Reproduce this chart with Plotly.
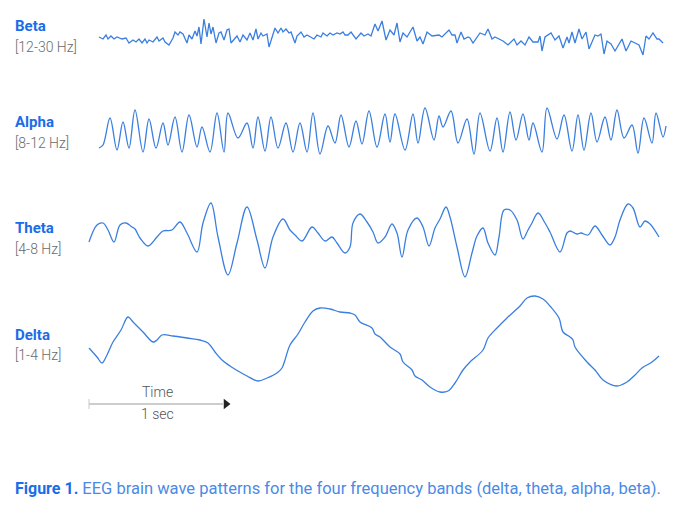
import plotly.graph_objects as go

# Waveforms (x = horizontal position, y = vertical position, screen units)
beta_x = [99,103,106,108,111,114,117,122,126,129,133,136,139,142,145,147,149,153,157,159,163,165,169,173,175,178,180,183,187,189,192,195,197,199,201,204,207,209,211,213,216,219,221,224,227,229,231,234,237,240,243,247,250,253,256,258,261,263,267,269,273,275,278,281,283,286,289,291,295,297,301,304,307,311,314,317,321,323,327,330,333,337,340,343,345,348,351,356,361,364,368,371,375,378,382,386,390,394,397,400,403,407,413,417,420,423,427,432,439,442,449,452,455,457,461,464,468,470,473,480,485,488,492,495,503,508,514,517,521,525,529,533,538,540,542,545,551,555,559,563,567,569,572,575,579,582,586,589,593,595,598,601,604,607,611,615,622,626,631,635,639,643,646,649,653,657,659,663]
beta_y = [37,39,35,39,36,39,37,39,38,43,40,42,39,43,39,43,40,42,37,41,38,42,45,38,32,35,32,34,43,35,39,31,36,27,44,19,37,23,34,27,43,33,32,40,30,29,43,39,36,42,35,40,33,40,29,39,33,36,34,47,33,28,33,28,32,29,33,32,43,36,32,37,35,37,39,35,37,33,36,33,35,33,34,32,35,35,32,39,33,36,34,36,24,31,21,40,30,35,23,42,33,37,27,41,37,44,32,36,35,37,30,35,35,43,32,39,37,38,43,33,35,29,39,37,41,45,39,45,41,45,37,42,42,36,51,37,33,40,36,48,37,43,32,43,29,39,32,49,39,35,36,34,54,41,44,51,39,51,41,43,45,55,36,39,33,39,39,43]

alpha_x = [99,103,110,117,123,129,135,143,149,156,163,168,175,182,189,197,202,210,217,224,228,238,247,253,258,265,271,278,286,293,300,307,313,320,328,335,341,349,356,362,369,377,385,390,395,405,413,418,425,434,439,443,451,458,467,474,480,490,497,503,510,516,523,529,533,542,547,557,564,572,578,584,591,597,605,611,617,624,632,638,644,652,656,663,666]
alpha_y = [148,145,118,150,122,148,110,152,119,148,123,145,117,152,115,147,127,152,113,152,113,138,123,148,117,151,117,148,123,152,123,152,113,154,126,143,115,147,121,144,111,147,114,142,114,150,114,143,108,140,116,127,111,143,119,154,113,151,118,152,112,140,114,140,123,152,108,139,115,151,115,150,113,142,117,140,110,138,125,153,118,143,113,137,126]

theta_x = [89,97,103,108,114,120,126,132,135,140,148,157,163,172,180,187,197,203,211,218,228,237,247,257,265,273,283,290,295,302,312,318,325,332,337,345,350,353,360,367,373,378,385,392,397,402,408,417,423,429,435,440,446,450,457,465,472,477,483,488,495,499,504,510,517,523,528,532,538,545,550,560,567,570,577,581,588,595,602,610,615,620,628,633,640,645,650,659]
theta_y = [242,225,223,230,242,225,223,227,229,238,246,237,231,230,222,233,252,223,203,237,275,243,207,240,268,237,219,230,235,241,227,233,241,237,243,253,247,223,214,222,232,243,237,224,233,257,230,218,227,246,228,219,207,217,247,277,253,236,228,243,255,237,210,210,220,239,230,223,213,223,232,252,233,231,234,233,235,226,235,245,237,220,204,208,227,221,224,237]

delta_x = [89,97,102,107,113,121,128,133,143,153,157,162,173,187,200,208,215,222,230,238,247,258,267,277,282,285,290,298,305,313,320,330,340,350,355,360,372,375,380,390,400,403,412,415,422,430,440,448,455,463,470,483,488,497,507,520,527,535,543,550,559,563,570,573,575,587,595,603,617,627,635,642,652,659]
delta_y = [348,357,363,355,342,330,317,322,332,342,340,335,336,338,340,343,352,360,366,371,376,381,378,373,368,360,345,334,322,311,308,309,312,313,315,322,328,334,337,347,354,362,370,376,380,387,392,391,383,370,362,350,338,328,318,306,298,296,299,306,318,332,337,340,347,362,370,380,386,382,375,368,362,356]

band_names = ["Beta", "Alpha", "Theta", "Delta"]
band_ranges = ["[12-30 Hz]", "[8-12 Hz]", "[4-8 Hz]", "[1-4 Hz]"]
band_label_y = [26, 122, 228, 335]
band_range_y = [47, 143, 249, 355]

time_label = "Time"
scale_label = "1 sec"
scale_start, scale_end, scale_y = 89, 229, 404

caption_bold = "Figure 1."
caption_rest = " EEG brain wave patterns for the four frequency bands (delta, theta, alpha, beta)."

LINE = "#3a7fdf"
BLUE = "#1a6ce8"
FONT = "Roboto"

fig = go.Figure()
series = [(beta_x, beta_y, "linear"), (alpha_x, alpha_y, "spline"),
          (theta_x, theta_y, "spline"), (delta_x, delta_y, "spline")]
for xs, ys, shape in series:
    fig.add_trace(go.Scatter(x=xs, y=ys, mode="lines",
                             line=dict(color=LINE, width=1.3, shape=shape, smoothing=1.0),
                             hoverinfo="skip", showlegend=False))

for name, rng, ly, ry in zip(band_names, band_ranges, band_label_y, band_range_y):
    fig.add_annotation(x=13, y=ly, text=f"<b>{name}</b>", showarrow=False,
                       xanchor="left", yanchor="middle",
                       font=dict(family=FONT, size=15, color=BLUE))
    fig.add_annotation(x=13, y=ry, text=rng, showarrow=False,
                       xanchor="left", yanchor="middle",
                       font=dict(family=FONT, size=14, color="#6b6b6b", weight=300))

# time scale bar
fig.add_shape(type="line", x0=scale_start, x1=scale_end - 6, y0=scale_y, y1=scale_y,
              line=dict(color="#9a9a9a", width=1))
fig.add_shape(type="line", x0=scale_start, x1=scale_start, y0=scale_y - 5, y1=scale_y + 5,
              line=dict(color="#c8c8c8", width=1))
fig.add_trace(go.Scatter(x=[scale_end - 3], y=[scale_y], mode="markers",
                         marker=dict(symbol="triangle-right", size=9, color="#222222"),
                         hoverinfo="skip", showlegend=False))
mid = (scale_start + scale_end) / 2
fig.add_annotation(x=mid - 2, y=392, text=time_label, showarrow=False,
                   font=dict(family=FONT, size=14, color="#555555", weight=300))
fig.add_annotation(x=mid - 2, y=414, text=scale_label, showarrow=False,
                   font=dict(family=FONT, size=14, color="#555555", weight=300))

fig.add_annotation(x=13, y=488, xanchor="left", yanchor="middle", showarrow=False,
                   text=f"<b>{caption_bold}</b><span style='color:#4a8ae6;font-size:16.5px'>{caption_rest}</span>",
                   font=dict(family=FONT, size=16, color=BLUE))

fig.update_layout(
    width=688, height=518, margin=dict(l=0, r=0, t=0, b=0),
    paper_bgcolor="white", plot_bgcolor="white",
    xaxis=dict(range=[0, 688], visible=False, fixedrange=True),
    yaxis=dict(range=[518, 0], visible=False, fixedrange=True),
)
fig.write_html("out.html", config={"displayModeBar": False},
               post_script="document.body.style.margin='0';document.body.style.overflow='hidden';")
